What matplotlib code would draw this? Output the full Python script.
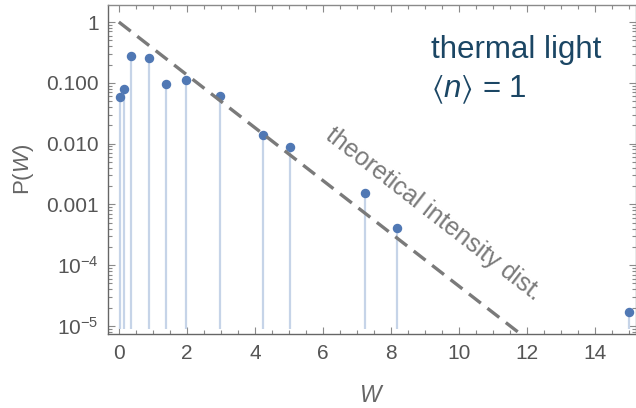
import numpy as np
import matplotlib
matplotlib.use("Agg")
from matplotlib import pyplot as plt
from matplotlib.ticker import FixedLocator, MultipleLocator, LogLocator, NullFormatter

plt.rcParams['font.family'] = ['Liberation Sans', 'DejaVu Sans']
plt.rcParams['mathtext.fontset'] = 'custom'
plt.rcParams['mathtext.rm'] = 'Liberation Sans'
plt.rcParams['mathtext.it'] = 'Liberation Sans:italic'
plt.rcParams['mathtext.fallback'] = 'stixsans'

# measured photon-number-resolved intensities
w_data = [0.03, 0.14, 0.355, 0.89, 1.40, 1.98, 2.98, 4.23, 5.04, 7.25, 8.19, 15.0]
p_data = [0.059, 0.080, 0.276, 0.256, 0.097, 0.111, 0.060, 0.0137, 0.0089,
          0.00156, 0.00041, 1.68e-5]
stem_base = 8.9e-6

# theoretical thermal intensity distribution P(W) = exp(-W)
w_theory = np.linspace(0, 12.5, 200)
p_theory = np.exp(-w_theory)

y_ticks = [1, 0.1, 0.01, 0.001, 1e-4, 1e-5]
y_ticklabels = ['1', '0.100', '0.010', '0.001', r'$10^{-4}$', r'$10^{-5}$']
x_ticks = [0, 2, 4, 6, 8, 10, 12, 14]

tick_col = '#555555'
frame_col = '#8a8a8a'
text_blue = '#1b4664'

fig = plt.figure(figsize=(6.36, 4.08), dpi=100)
ax = fig.add_axes([0.1703, 0.1806, 0.8290, 0.8064])

ax.vlines(w_data, stem_base, p_data, color='#c6d4e8', lw=1.6, zorder=2)
ax.plot(w_data, p_data, 'o', color='#5078b4', ms=5.8, zorder=3)
ax.plot(w_theory, p_theory, color='#7a7a7a', lw=2.4, dashes=(4.5, 2.5), zorder=4)

ax.set_yscale('log')
ax.set_xlim(-0.31, 15.2)
ax.set_ylim(10 ** -5.137, 10 ** 0.275)

ax.xaxis.set_major_locator(FixedLocator(x_ticks))
ax.xaxis.set_minor_locator(MultipleLocator(0.5))
ax.yaxis.set_major_locator(FixedLocator(y_ticks))
ax.set_yticklabels(y_ticklabels)
ax.yaxis.set_minor_locator(LogLocator(base=10, subs=np.arange(2, 10), numticks=20))
ax.yaxis.set_minor_formatter(NullFormatter())

ax.tick_params(which='both', direction='in', top=True, right=True, colors=frame_col,
               labelcolor=tick_col, labelsize=15, width=0.8)
ax.tick_params(which='major', length=5, pad=7)
ax.tick_params(which='minor', length=3)
for s in ax.spines.values():
    s.set_color(frame_col)
    s.set_linewidth(1.0)
ax.spines['bottom'].set_color('#666666')
ax.spines['left'].set_color('#666666')

ax.set_xlabel(r'$W$', fontsize=16.5, color='#666666', labelpad=15)
ax.set_ylabel(r'P($W$)', fontsize=16, color='#666666', labelpad=7)

ax.text(9.25, 7.0e-4, 'theoretical intensity dist.', rotation=-37.8,
        rotation_mode='anchor', ha='center', va='center', fontsize=18, color='#7a7a7a')
ax.text(9.17, 10 ** -0.6, 'thermal light', fontsize=22.5, color=text_blue)
ax.text(9.17, 10 ** -1.24, '$\u27e8n\u27e9$ = 1', fontsize=22.5, color=text_blue)

fig.savefig('out.png', dpi=100)
